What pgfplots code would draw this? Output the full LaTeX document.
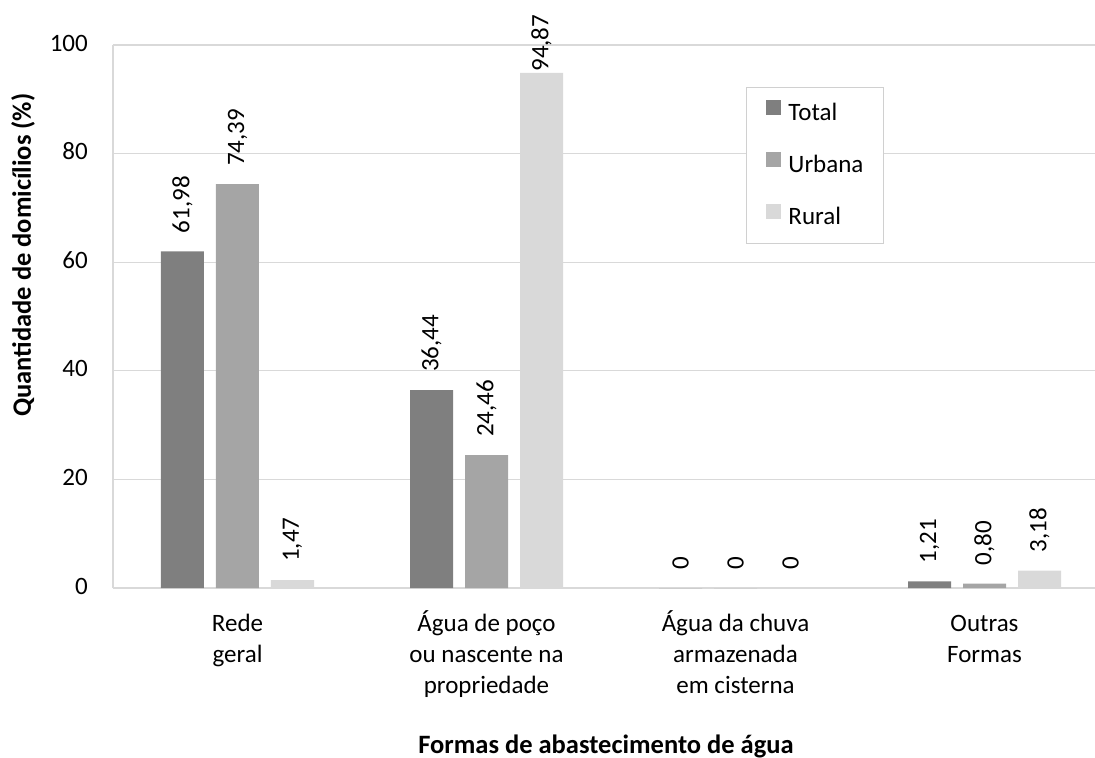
\documentclass[border=0pt]{standalone}
\usepackage{pgfplots}
\pgfplotsset{compat=1.18}
\usepackage{pgfplotstable}
\usepackage{fontspec}
\setmainfont{Carlito}

\definecolor{cTotal}{HTML}{7F7F7F}
\definecolor{cUrb}{HTML}{A5A5A5}
\definecolor{cRur}{HTML}{D9D9D9}
\definecolor{gridc}{HTML}{D9D9D9}
\definecolor{frame}{HTML}{D0D0D0}

\newcommand{\lbl}{\fontsize{25bp}{31bp}\selectfont}
\newcommand{\ttl}{\bfseries\fontsize{26.5bp}{31bp}\selectfont}

% x = category, y = share of households, lab = printed value, off = label gap
\pgfplotstableread{
x y lab off
0 61.98 61,98 18
1 36.44 36,44 18
2 0 0 18
3 1.21 1,21 18
}\total
\pgfplotstableread{
x y lab off
0 74.39 74,39 18
1 24.46 24,46 18
2 0 0 18
3 0.80 0,80 18
}\urbana
\pgfplotstableread{
x y lab off
0 1.47 1,47 18
1 94.87 94,87 1
2 0 0 18
3 3.18 3,18 18
}\rural

\begin{document}
\begin{tikzpicture}
\useasboundingbox (-113bp,-170bp) rectangle (982bp,588bp);
\begin{axis}[
  at={(0,0)}, anchor=south west,
  scale only axis, width=996bp, height=543bp,
  xmin=-0.5, xmax=3.5, ymin=0, ymax=100,
  ytick={0,20,...,100},
  xtick={0,1,2,3},
  xticklabels={Rede\\geral, Água de poço\\ou nascente na\\propriedade, Água da chuva\\armazenada\\em cisterna, Outras\\Formas},
  typeset ticklabels with strut,
  xticklabel style={align=center, font=\lbl, inner sep=0pt, anchor=north, yshift=-22bp},
  yticklabel style={font=\lbl, inner sep=0pt, anchor=east, xshift=-25bp},
  /pgf/number format/assume math mode=true,
  major tick length=0pt,
  axis lines=left,
  axis line style={-, gridc, line width=1.5bp},
  ymajorgrids, grid style={gridc, line width=1.2bp},
  ylabel={Quantidade de domicílios (\%)},
  ylabel style={font=\ttl, at={(axis description cs:-0.0904,0.613)}, anchor=center},
  xlabel={Formas de abastecimento de água},
  xlabel style={font=\ttl, at={(axis description cs:0.495,-0.3039)}, anchor=base},
  ybar, bar width=43bp,
  point meta=explicit symbolic,
  nodes near coords,
  visualization depends on={\thisrow{off} \as \laboff},
  nodes near coords style={font=\lbl, inner sep=0pt, anchor=west, rotate=90, xshift=\laboff bp, text=black},
  legend style={at={(0.6355,0.9227)}, anchor=north west, draw=frame, line width=1bp,
    inner xsep=20bp, inner ysep=12.5bp, font=\lbl, row sep=25bp, column sep=7bp,
    nodes={inner sep=0pt, text height=18bp, text depth=6bp}},
  legend cell align=left,
]
\addplot[bar shift=-55bp, fill=cTotal, draw=none,
  legend image code/.code={\fill[cTotal] (0bp,0bp) rectangle (15bp,15bp);}]
  table[x=x, y=y, meta=lab] {\total};
\addlegendentry{Total}
\addplot[bar shift=0bp, fill=cUrb, draw=none,
  legend image code/.code={\fill[cUrb] (0bp,0bp) rectangle (15bp,15bp);}]
  table[x=x, y=y, meta=lab] {\urbana};
\addlegendentry{Urbana}
\addplot[bar shift=55bp, fill=cRur, draw=none,
  legend image code/.code={\fill[cRur] (0bp,0bp) rectangle (15bp,15bp);}]
  table[x=x, y=y, meta=lab] {\rural};
\addlegendentry{Rural}
\end{axis}
\end{tikzpicture}
\end{document}
